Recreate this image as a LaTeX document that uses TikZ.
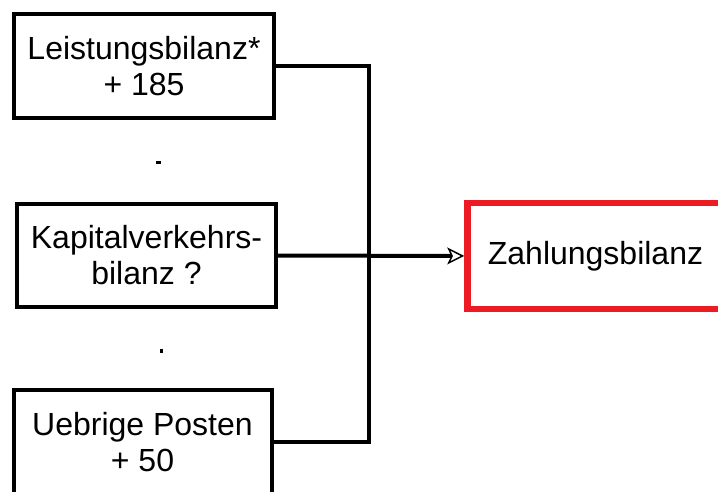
\documentclass[tikz,border=0pt]{standalone}
\usepackage{fontspec}
\setmainfont{Liberation Sans}
\usetikzlibrary{arrows.meta}

\begin{document}
\begin{tikzpicture}[
    x=1pt, y=-1pt,
    item/.style={rectangle, draw=black, line width=4pt, fill=white, align=center,
        inner sep=0pt, font=\fontsize{32}{36}\selectfont},
    total/.style={item, draw={rgb,255:red,237;green,28;blue,36}, line width=6.5pt},
    line/.style={line width=4pt, black},
    arrow/.style={line, -{Stealth[open, length=17pt, width=17pt, inset=4pt, line width=1.5pt]}}
]
    \useasboundingbox (0,0) rectangle (718,492);
    \clip (0,0) rectangle (718,492);

    % --- Left Column (Components) ---
    \node[item, minimum width=260pt, minimum height=104pt] (lb) at (144, 66) {Leistungsbilanz*\\+ 185};
    \node[item, minimum width=259pt, minimum height=103pt] (kv) at (146.5, 255.5) {Kapitalverkehrs-\\bilanz ?};
    \node[item, minimum width=258pt, minimum height=104pt] (ub) at (142.5, 442) {Uebrige Posten\\+ 50};

    % --- Right Side (Result) ---
    \node[total, minimum width=256pt, minimum height=105.5pt] (zb) at (595.5, 256) {Zahlungsbilanz};

    % --- Small Marks ---
    \fill (156,161) rectangle (161,164);
    \fill (160,349) rectangle (163,353);

    % --- Connectors ---
    \coordinate (bus) at (369, 0);
    \draw[line] (lb.east) -- (lb.east -| bus) -- (ub.east -| bus) -- (ub.east);
    \draw[arrow] (kv.east) -- (zb.west);

\end{tikzpicture}
\end{document}
